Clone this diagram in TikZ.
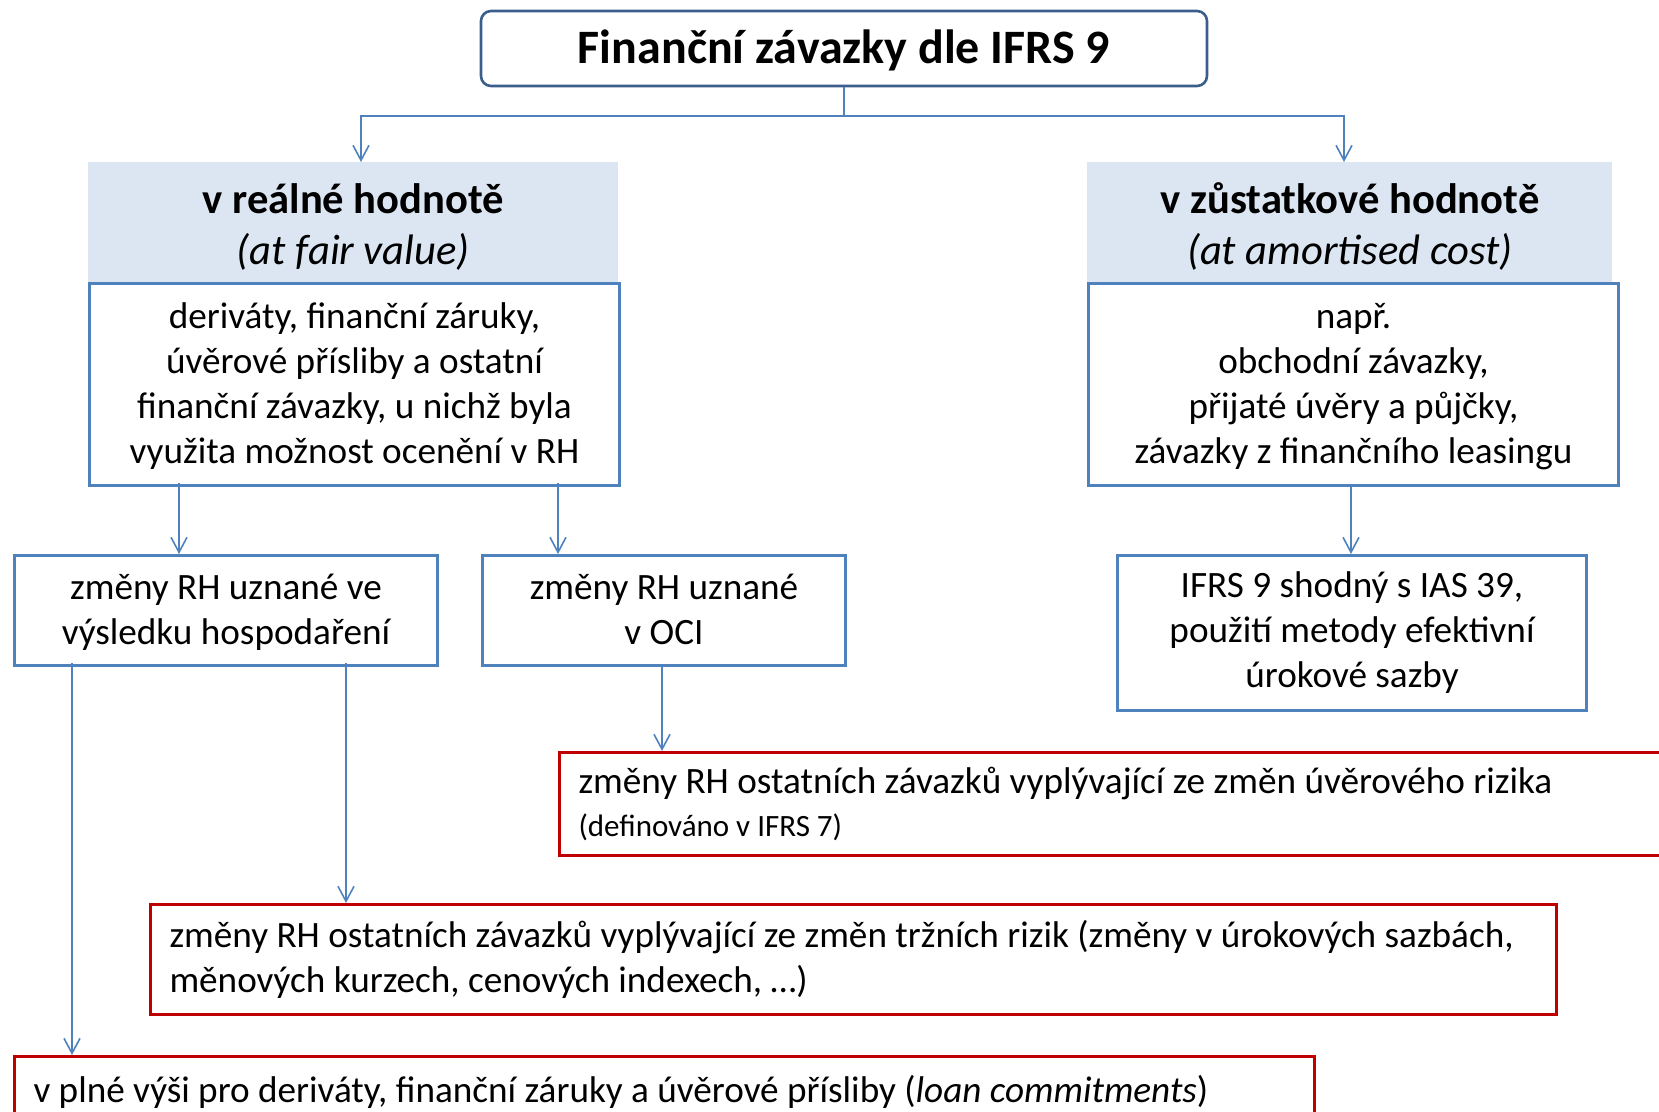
\documentclass[tikz,border=0pt]{standalone}
\usepackage{fontspec}
\setmainfont{Carlito}
\usetikzlibrary{arrows.meta}
\definecolor{ublue}{HTML}{4F81BD}
\definecolor{tblue}{HTML}{3B5E8C}
\definecolor{hfill}{HTML}{DCE6F2}
\definecolor{ured}{HTML}{C00000}
\begin{document}
\begin{tikzpicture}[x=0.5pt,y=-0.5pt,
  bodyfont/.style={font=\fontsize{18.6}{22.5}\selectfont},
  bluebox/.style={draw=ublue,line width=1.5pt,fill=white,inner sep=0pt,align=center,anchor=north west,bodyfont},
  headbox/.style={fill=hfill,inner sep=0pt,align=center,anchor=north west,font=\fontsize{21.3}{25.5}\selectfont},
  redbox/.style={draw=ured,line width=1.5pt,fill=white,inner ysep=0pt,inner xsep=9.5pt,align=flush left,anchor=north west,bodyfont},
  conn/.style={draw=ublue,line width=0.8pt},
  arr/.style={conn,-{Straight Barb[length=7.5pt,width=8pt,line width=0.8pt]}}
]
\useasboundingbox (0,0) rectangle (1659,1112);
\clip (0,0) rectangle (1659,1112);

% title
\node[draw=tblue,line width=1.3pt,rounded corners=5pt,minimum width=363pt,minimum height=37.5pt,inner sep=0pt,
  font=\fontsize{24}{28}\selectfont\bfseries] (title) at (844,48.5) {\rule{0pt}{19pt}Finanční závazky dle IFRS 9};

% headers
\node[headbox,minimum width=265pt,minimum height=60pt] (hl) at (88,162)
  {\rule{0pt}{19.5pt}\textbf{v reálné hodnotě}\\\textit{(at fair value)}};
\node[headbox,minimum width=262.5pt,minimum height=60pt] (hr) at (1087,162)
  {\rule{0pt}{19.5pt}\textbf{v zůstatkové hodnotě}\\\textit{(at amortised cost)}};

% content boxes
\node[bluebox,minimum width=265pt,minimum height=101pt] (bl) at (88,282)
  {\rule{0pt}{14.5pt}deriváty, finanční záruky,\\úvěrové přísliby a ostatní\\finanční závazky, u nichž byla\\využita možnost ocenění v RH};
\node[bluebox,minimum width=265pt,minimum height=101pt] (br) at (1087,282)
  {\rule{0pt}{14.5pt}např.\\obchodní závazky,\\přijaté úvěry a půjčky,\\závazky z finančního leasingu};

\node[bluebox,minimum width=211.5pt,minimum height=55pt] (b1) at (13,554)
  {\rule{0pt}{18.4pt}změny RH uznané ve\\výsledku hospodaření\strut};
\node[bluebox,minimum width=181.5pt,minimum height=55pt] (b2) at (481,554)
  {\rule{0pt}{18.4pt}změny RH uznané\\v OCI\strut};
\node[bluebox,minimum width=234.5pt,minimum height=77.5pt] (b3) at (1116,554)
  {IFRS 9 shodný s IAS 39,\\použití metody efektivní\\úrokové sazby};

% red boxes
\node[redbox,text width=552pt,minimum height=51.5pt] (r1) at (558,751)
  {změny RH ostatních závazků vyplývající ze změn úvěrového rizika\\[-1pt]{\fontsize{15.5}{20}\selectfont (definováno v IFRS 7)}};
\node[redbox,text width=684pt,minimum height=55pt] (r2) at (149,903)
  {změny RH ostatních závazků vyplývající ze změn tržních rizik (změny v úrokových sazbách,\\měnových kurzech, cenových indexech, …)};
\node[redbox,text width=631pt,minimum height=35pt] (r3) at (13,1055)
  {v plné výši pro deriváty, finanční záruky a úvěrové přísliby (\textit{loan commitments})};

% connectors
\coordinate (j) at (844,116);
\coordinate (xl) at (361,0);
\coordinate (xr) at (1344,0);
\coordinate (x1) at (179,0);
\coordinate (x2) at (558,0);
\coordinate (x3) at (1351,0);
\coordinate (x4) at (662,0);
\coordinate (x5) at (72,0);
\coordinate (x6) at (346,0);

\draw[conn] (title.south) -- (j);
\draw[arr] (j) -| (hl.north -| xl);
\draw[arr] (j) -| (hr.north -| xr);
\draw[arr] ([yshift=2pt]bl.south -| x1) -- (b1.north -| x1);
\draw[arr] ([yshift=2pt]bl.south -| x2) -- (b2.north -| x2);
\draw[arr] (br.south -| x3) -- (b3.north -| x3);
\draw[arr] (b2.south -| x4) -- (r1.north -| x4);
\draw[arr] ([yshift=2pt]b1.south -| x6) -- (r2.north -| x6);
\draw[arr] ([yshift=2pt]b1.south -| x5) -- (r3.north -| x5);
\end{tikzpicture}
\end{document}
